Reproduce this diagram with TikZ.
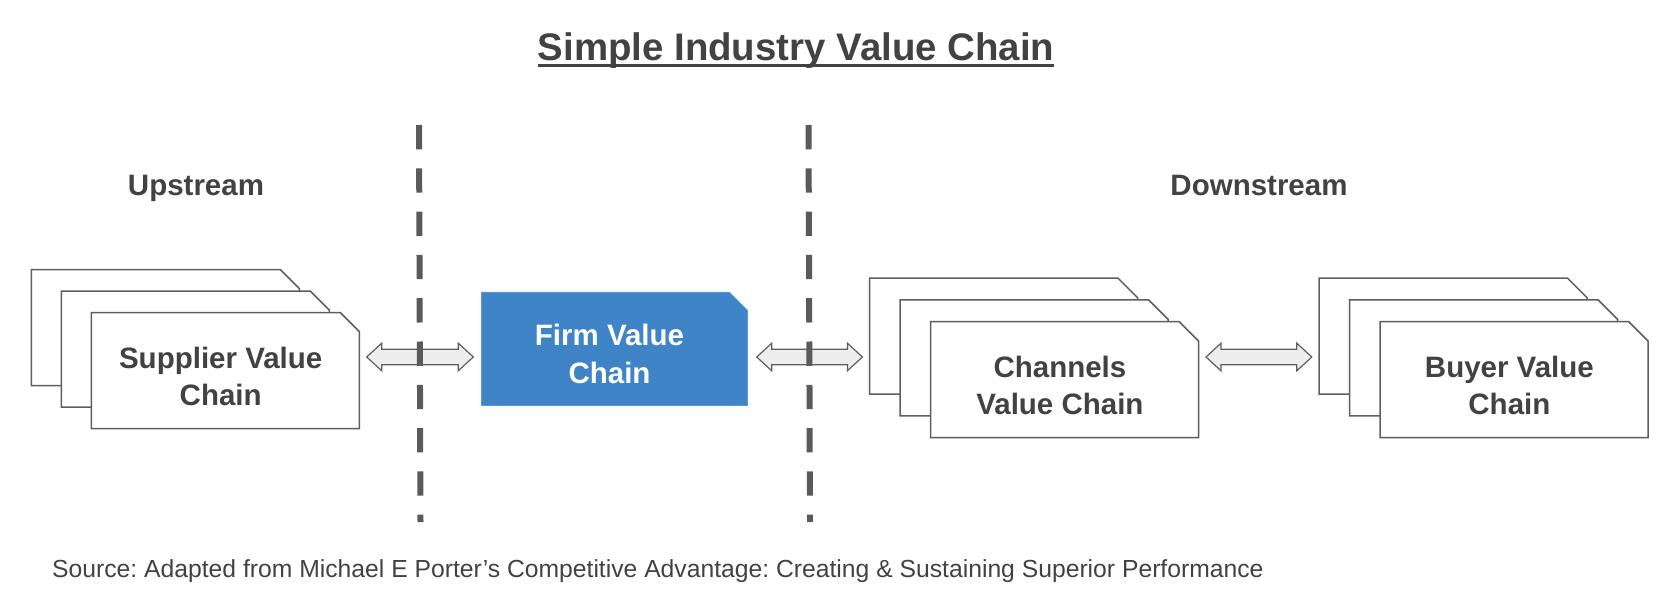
\documentclass[tikz,border=0pt]{standalone}
\usepackage{fontspec}
\setmainfont{Liberation Sans}
\usetikzlibrary{calc,backgrounds}
\frenchspacing
\definecolor{txt}{HTML}{424242}
\definecolor{edge}{HTML}{5E5E5E}
\definecolor{firmblue}{HTML}{3F84C6}
\definecolor{firmedge}{HTML}{5B98D2}
\definecolor{arrfill}{HTML}{EDEDED}
\definecolor{dashc}{HTML}{5A5A5A}
\tikzset{
  docbox/.style={minimum width=268bp, minimum height=116bp, inner sep=0pt, outer sep=0pt, draw=none, anchor=north west},
  firmbox/.style={minimum width=265.6bp, minimum height=113bp, inner sep=0pt, outer sep=0pt, draw=none, anchor=north west},
  docline/.style={draw=edge, line width=1.5bp, fill=white, line join=miter},
  firmline/.style={draw=firmedge, line width=1bp, fill=firmblue, line join=miter},
  boxtext/.style={font=\fontsize{29.5bp}{37.5bp}\selectfont\bfseries, text=txt, align=center, inner sep=0pt},
  firmtext/.style={boxtext, text=white},
  headtext/.style={font=\fontsize{29.5bp}{36bp}\selectfont\bfseries, text=txt, inner sep=0pt, anchor=base},
  titletext/.style={font=\fontsize{38.4bp}{46bp}\selectfont\bfseries, text=txt, inner sep=0pt, anchor=base},
  srctext/.style={font=\fontsize{24.7bp}{30bp}\selectfont, text=txt, inner sep=0pt, anchor=base west},
  arrowst/.style={draw=edge, line width=1.2bp, fill=arrfill, line join=miter},
  dashline/.style={draw=dashc, line width=6bp, dash pattern=on 24.3bp off 19bp}
}
% chamfered outline drawn behind the named node
\newcommand\chamf[3]{%
  \begin{scope}[on background layer]
  \path[#3] (#1.north west) -- ($(#1.north east)+(-#2,0)$) -- ($(#1.north east)+(0,#2)$)
     -- (#1.south east) -- (#1.south west) -- cycle;
  \end{scope}}
% hollow double arrow from node #1 (gap #2) to node #3 (gap #4) along row
\newcommand\dblarrow[4]{%
  \filldraw[arrowst] let \p1=(#1.east |- row), \p2=(#3.west |- row) in
    (\x1+#2bp,\y1) -- (\x1+#2bp+15bp,\y1+13.8bp) -- (\x1+#2bp+15bp,\y1+7.8bp)
    -- (\x2-#4bp-15bp,\y1+7.8bp) -- (\x2-#4bp-15bp,\y1+13.8bp) -- (\x2-#4bp,\y1)
    -- (\x2-#4bp-15bp,\y1-13.8bp) -- (\x2-#4bp-15bp,\y1-7.8bp)
    -- (\x1+#2bp+15bp,\y1-7.8bp) -- (\x1+#2bp+15bp,\y1-13.8bp) -- cycle;}
\begin{document}
\begin{tikzpicture}[x=1bp,y=-1bp]
\useasboundingbox (0,0) rectangle (1676,602);
\coordinate (row) at (0,357);

% title
\node[titletext] (title) at (796,60.5) {Simple Industry Value Chain};
\draw[draw=txt, line width=2.7bp] ($(title.base west)+(0,5)$) -- ($(title.base east)+(0,5)$);

\node[headtext] (up) at (196,195.8) {Upstream};
\node[headtext] (down) at (1259,195.8) {Downstream};

% supplier stack
\node[docbox] (supB) at (31.3,269.5) {};
\chamf{supB}{19}{docline}
\node[docbox] (supM) at (61.3,291) {};
\chamf{supM}{19}{docline}
\node[docbox] (supF) at (91.3,312.5) {};
\chamf{supF}{19}{docline}
\node[boxtext] (supT) at ($(supF.center)+(-4.6,6)$) {Supplier Value\\Chain};

% firm
\node[firmbox] (firm) at (481.7,292.3) {};
\chamf{firm}{18}{firmline}
\node[firmtext] (firmT) at ($(firm.center)+(-5,5)$) {Firm Value\\Chain};

% channels stack
\node[docbox] (chB) at (869.5,278.1) {};
\chamf{chB}{19.5}{docline}
\node[docbox] (chM) at (900,299.8) {};
\chamf{chM}{19.5}{docline}
\node[docbox] (chF) at (930.5,321.5) {};
\chamf{chF}{19.5}{docline}
\node[boxtext] (chT) at ($(chF.center)+(-4.6,6)$) {Channels\\Value Chain};

% buyer stack
\node[docbox] (buB) at (1319,278.1) {};
\chamf{buB}{19.5}{docline}
\node[docbox] (buM) at (1349.5,299.8) {};
\chamf{buM}{19.5}{docline}
\node[docbox] (buF) at (1380,321.5) {};
\chamf{buF}{19.5}{docline}
\node[boxtext] (buT) at ($(buF.center)+(-4.6,6)$) {Buyer Value\\Chain};

% arrows
\dblarrow{supF}{7.4}{firm}{8.4}
\dblarrow{firm}{9.4}{chB}{7.1}
\dblarrow{chF}{7.5}{buB}{7.2}

% dashed separators
\coordinate (d1t) at (419,125);
\coordinate (d1b) at (420.5,522);
\coordinate (d2t) at (808.5,125);
\coordinate (d2b) at (810,522);
\draw[dashline] (d1t) -- (d1b);
\draw[dashline] (d2t) -- (d2b);

\node[srctext] (src) at (52,577) {Source: Adapted from Michael E Porter’s Competitive Advantage: Creating \& Sustaining Superior Performance};
\end{tikzpicture}
\end{document}
